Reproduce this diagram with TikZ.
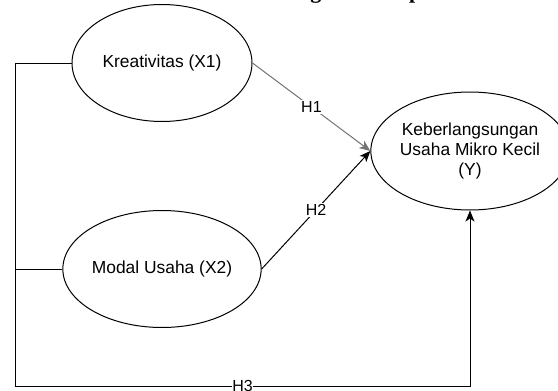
\documentclass[tikz,border=0pt]{standalone}
\usepackage{fontspec}
\setmainfont{Liberation Serif}
\setsansfont{Liberation Sans}
\usetikzlibrary{shapes.geometric,arrows.meta}

\begin{document}
\begin{tikzpicture}[x=1pt,y=-1pt]
\tikzstyle{var}=[draw,ellipse,line width=1pt,inner sep=0pt,
  minimum width=180pt,minimum height=117pt,align=center,
  font=\sffamily\fontsize{17.4}{20}\selectfont]
\tikzstyle{hyp}=[fill=white,inner sep=1pt,font=\sffamily\fontsize{16}{18}\selectfont]
\tikzstyle{link}=[line width=1pt,-{Stealth[length=11pt,width=9pt,inset=3pt]}]
\clip (0,0) rectangle (558,391);
\useasboundingbox (0,0) rectangle (558,391);
% heading, cut off by the top edge
\node [anchor=base west,inner sep=0pt,font=\bfseries\fontsize{22.1}{24}\selectfont] (head) at (250,-1.5) {Kerangka Konseptual};
% variables
\node [var] (kreatif) at (162,63) {Kreativitas (X1)};
\node [var] (modal) at (162,269) {Modal Usaha (X2)};
\node [var,minimum width=176pt,minimum height=118pt] (ukm) at (470,151) {Keberlangsungan\\Usaha Mikro Kecil\\(Y)};
\coordinate (lt) at (15,63);
\coordinate (lb) at (15,386);
% hypotheses
\draw [link,black!55] (kreatif.east) -- node [hyp,text=black] {H1} (ukm.west);
\draw [link] (modal.east) -- node [hyp] {H2} (ukm.west);
\draw [line width=1pt] (modal.west) -- (modal.west -| lt);
\draw [link] (kreatif.west) -- (lt) -- (lb) -- node [hyp,inner sep=0pt] {H3} (ukm.south |- lb) -- (ukm.south);
\end{tikzpicture}
\end{document}
